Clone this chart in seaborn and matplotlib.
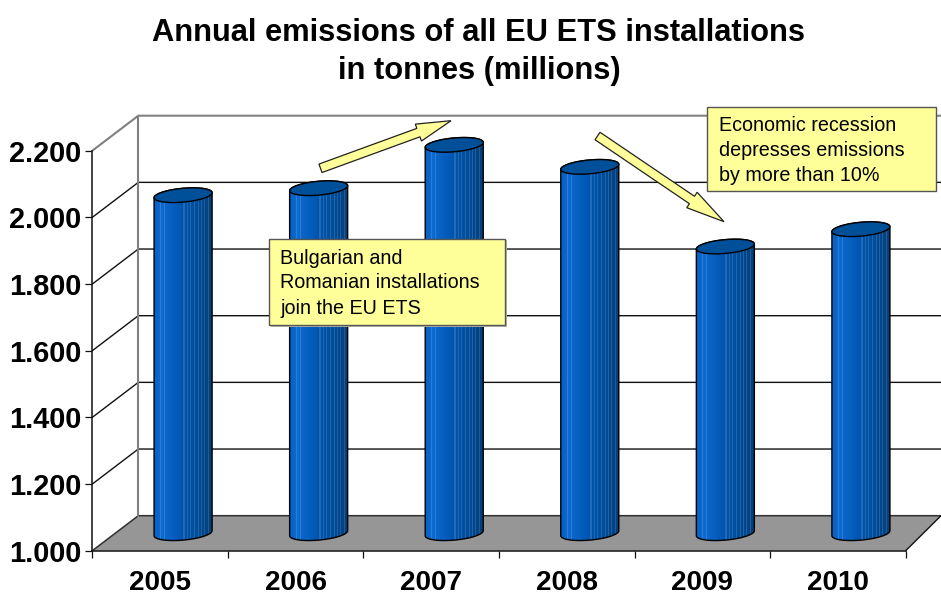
import numpy as np
import pandas as pd
import matplotlib
matplotlib.use("Agg")
import matplotlib.pyplot as plt
import seaborn as sns
from matplotlib.path import Path
from matplotlib.patches import PathPatch, Polygon, Rectangle
from matplotlib.lines import Line2D
from matplotlib.transforms import IdentityTransform

years = ["2005", "2006", "2007", "2008", "2009", "2010"]
emissions = [2.014, 2.035, 2.165, 2.099, 1.860, 1.912]
tick_values = [1.0, 1.2, 1.4, 1.6, 1.8, 2.0, 2.2]
tick_labels = ["1.000", "1.200", "1.400", "1.600", "1.800", "2.000", "2.200"]
title_text = "Annual emissions of all EU ETS installations\nin tonnes (millions)"
note_left = "Bulgarian and\nRomanian installations\njoin the EU ETS"
note_right = "Economic recession\ndepresses emissions\nby more than 10%"

W, H = 941, 592
sns.set_theme(style="white")
plt.rcParams["font.family"] = ["Liberation Sans", "DejaVu Sans"]

fig = plt.figure(figsize=(W / 100, H / 100), dpi=100, facecolor="white")
ID = IdentityTransform()


def D(x, y):
    """Screen pixel (from top-left) to display coordinates."""
    return (x, H - y)


def axes_px(left, top, right, bottom):
    return [left / W, 1 - bottom / H, (right - left) / W, (bottom - top) / H]


FX0, FX1, FY_TOP, FY_BOT = 92.3, 905.7, 150.7, 550.7
BACK_DX, BACK_DY = 46, 35
PX_PER_UNIT = (FY_BOT - FY_TOP) / 1.2

# front plane axes: y axis, category axis
ax = fig.add_axes(axes_px(FX0, FY_TOP, FX1, FY_BOT), zorder=1)
ax.patch.set_visible(False)
ax.set_xlim(-0.5, 5.5)
ax.set_ylim(1.0, 2.2)
for s in ("top", "right"):
    ax.spines[s].set_visible(False)
for s in ("left", "bottom"):
    ax.spines[s].set_color("#111111")
    ax.spines[s].set_linewidth(1.1)
ax.set_yticks(tick_values)
ax.set_yticklabels(tick_labels, fontsize=20.8, fontweight="bold", color="black")
ax.tick_params(axis="y", length=5, width=0.9, color="#111111", left=True, pad=3)
ax.set_xticks(np.arange(-0.5, 6.0, 1.0))
ax.set_xticklabels([""] * 7)
ax.set_xticks(np.arange(6), minor=True)
ax.set_xticklabels(years, minor=True, fontsize=20, fontweight="bold", color="black")
ax.tick_params(axis="x", which="major", length=5, width=0.9, color="#111111", bottom=True)
ax.tick_params(axis="x", which="minor", length=0, pad=14)
ax.grid(False)

# floor and back wall (the "3D" box)
bx0 = FX0 + BACK_DX
bx1 = 941
floor = Polygon([D(FX0, FY_BOT), D(bx0, FY_BOT - BACK_DY), D(bx1, FY_BOT - BACK_DY), D(FX1, FY_BOT)],
                closed=True, transform=ID, facecolor="#969696", edgecolor="none", clip_on=False, zorder=0.5)
ax.add_patch(floor)
for v in tick_values:
    y = FY_BOT - (v - 1.0) * PX_PER_UNIT
    if v == 2.2:
        col, lw = "#808080", 1.5
    elif v == 1.0:
        col, lw = "#303030", 1.1
    else:
        col, lw = "#111111", 1.0
    xs, ys = zip(D(FX0, y), D(bx0, y - BACK_DY), D(bx1 + 5, y - BACK_DY))
    ax.add_line(Line2D(xs, ys, transform=ID, color=col, lw=lw, clip_on=False, zorder=0.7))
xs, ys = zip(D(bx0, FY_TOP - BACK_DY), D(bx0, FY_BOT - BACK_DY))
ax.add_line(Line2D(xs, ys, transform=ID, color="#808080", lw=1.5, clip_on=False, zorder=0.7))
xs, ys = zip(D(FX1, FY_BOT), D(bx1, FY_BOT - BACK_DY))
ax.add_line(Line2D(xs, ys, transform=ID, color="#111111", lw=1.0, clip_on=False, zorder=0.7))

# mid-depth plane axes: cylinders
MID_DX, MID_DY = 23, 17.5
base_y = FY_BOT - MID_DY
top_px, bot_px = 100, 565
ax_bar = fig.add_axes(axes_px(FX0 + MID_DX, top_px, FX1 + MID_DX, bot_px), zorder=2)
df = pd.DataFrame({"year": years, "emissions": emissions})
sns.barplot(data=df, x="year", y="emissions", ax=ax_bar, width=0.428, color="#0057AE",
            saturation=1, linewidth=0, errorbar=None)
ax_bar.set_xlim(-0.5, 5.5)
ax_bar.set_ylim(1.0 - (bot_px - base_y) / PX_PER_UNIT, 1.0 + (base_y - top_px) / PX_PER_UNIT)
ax_bar.axis("off")

# shading of a cylinder: horizontal gradient with lighter vertical stripes
n_col = 58
frac = np.linspace(0, 1, n_col)
shade = np.empty((1, n_col, 3))
shade[0, :, 0] = np.interp(frac, [0, .12, .5, .75, 1], [0.02, 0.05, 0.00, 0.00, 0.02])
shade[0, :, 1] = np.interp(frac, [0, .12, .5, .75, 1], [0.38, 0.42, 0.33, 0.30, 0.24])
shade[0, :, 2] = np.interp(frac, [0, .12, .5, .75, 1], [0.76, 0.82, 0.68, 0.60, 0.47])
for c in [6, 10, 29, 32, 35, 39, 43, 46, 49, 53]:
    shade[0, c] = shade[0, c] + (1 - shade[0, c]) * 0.13

SKEW = 5 / 58
B = 6.9
t_low = np.linspace(np.pi, 2 * np.pi, 40)
t_up = np.linspace(0, np.pi, 40)

for bar in list(ax_bar.patches):
    x0 = bar.get_x()
    x1 = x0 + bar.get_width()
    (dx0, dtop) = ax_bar.transData.transform((x0, bar.get_height()))
    (dx1, dbase) = ax_bar.transData.transform((x1, 1.0))
    a = (dx1 - dx0) / 2
    cx = (dx0 + dx1) / 2

    def ell(cy, t):
        return np.column_stack([cx + a * np.cos(t), cy + B * np.sin(t) + SKEW * a * np.cos(t)])

    low = ell(dbase, t_low)
    up_r = ell(dtop, t_up)
    verts = np.vstack([low, up_r, low[:1]])
    body = Path(verts, closed=True)

    bar.set_clip_path(body, transform=ID)
    im = ax_bar.imshow(shade, extent=[x0, x1, ax_bar.get_ylim()[0], bar.get_height() + 0.05],
                       aspect="auto", interpolation="nearest", zorder=3)
    im.set_clip_path(body, transform=ID)
    ax_bar.add_patch(PathPatch(body, transform=ID, facecolor="none", edgecolor="black", lw=1.0, zorder=4, clip_on=False))
    cap = Path(np.vstack([ell(dtop, t_up), ell(dtop, t_low)]), closed=True)
    ax_bar.add_patch(PathPatch(cap, transform=ID, facecolor="#004F99", edgecolor="black", lw=1.0, zorder=5, clip_on=False))
ax_bar.set_xlim(-0.5, 5.5)
ax_bar.set_ylim(1.0 - (bot_px - base_y) / PX_PER_UNIT, 1.0 + (base_y - top_px) / PX_PER_UNIT)


# callouts and arrows, overlaid at pixel positions
def note(left, top, right, bottom, text, tx, ty):
    x0, y0 = D(left, bottom)
    x1, y1 = D(right, top)
    fig.add_artist(Rectangle((x0 + 1.5, y0 - 1.5), x1 - x0, y1 - y0, transform=ID, facecolor="#b8b8b0",
                             edgecolor="none", zorder=4.9))
    fig.add_artist(Rectangle((x0, y0), x1 - x0, y1 - y0, transform=ID, facecolor="#FFFF99",
                             edgecolor="#555555", lw=1.0, zorder=5))
    fig.text(tx / W, 1 - ty / H, text, fontsize=14.2, color="black", ha="left", va="top",
             linespacing=1.40, zorder=6)


def arrow(tail, tip, tail_w, head_w, head_l):
    p0, p1 = np.array(D(*tail), float), np.array(D(*tip), float)
    u = (p1 - p0) / np.linalg.norm(p1 - p0)
    n = np.array([-u[1], u[0]])
    h = p1 - u * head_l
    pts = [p0 + n * tail_w / 2, h + n * tail_w / 2, h + n * head_w / 2, p1,
           h - n * head_w / 2, h - n * tail_w / 2, p0 - n * tail_w / 2]
    fig.add_artist(Polygon(pts, closed=True, transform=ID, facecolor="#FFFF99", edgecolor="#222222",
                           lw=0.9, zorder=5, joinstyle="miter"))


note(269.3, 238.7, 505, 325, note_left, 280, 248.5)
note(707.3, 106.7, 935.7, 190.7, note_right, 719, 116)
arrow((320.5, 168.3), (451, 120.7), 9, 18, 34.7)
arrow((597.5, 136), (724, 221.7), 9, 18.6, 38.7)

fig.text(479 / W, 1 - 52 / H, title_text, fontsize=22.25, fontweight="bold", color="black",
         ha="center", va="center", linespacing=1.36, zorder=6)

fig.savefig("out.png", dpi=100, facecolor="white")
